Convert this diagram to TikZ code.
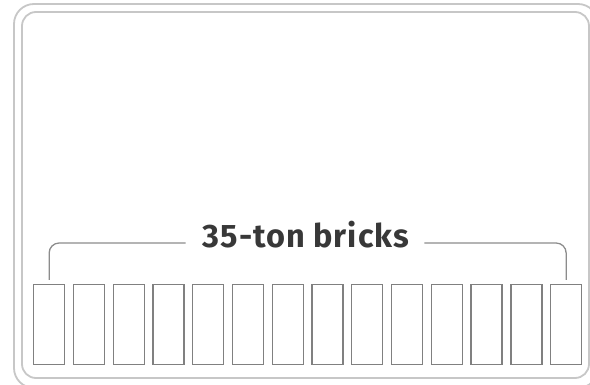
\documentclass[tikz,border=0pt]{standalone}
\usepackage{fontspec}
\setmainfont{Fira Sans}
\newfontfamily\lblfont[LetterSpace=3]{Fira Sans}
\begin{document}
\begin{tikzpicture}[x=1pt,y=-1pt,
  frameline/.style={draw=black!22,line width=1.8pt},
  brick/.style={draw=black!50,line width=1.3pt,minimum width=31pt,minimum height=80pt,inner sep=0pt,anchor=north west},
  bracketline/.style={draw=black!45,line width=1.3pt,rounded corners=10pt},
  label/.style={text=black!78,font=\lblfont\fontsize{32.5}{32.5}\selectfont\bfseries,inner sep=0pt,anchor=base}]
\useasboundingbox (0,0) rectangle (590,385);
\clip (0,0) rectangle (590,385);
\draw[frameline,rounded corners=20pt] (14,4) rectangle (598,388);
\draw[frameline,rounded corners=14pt] (22,12) rectangle (589,378);
\foreach \i in {1,...,14}{
  \node[brick] (b\i) at ({33+(\i-1)*39.77},284) {};
}
\node[label] (t) at (306,248) {35-ton bricks};
\coordinate (lt) at ([yshift=4pt]b1.north);
\coordinate (rt) at ([yshift=4pt]b14.north);
\coordinate (le) at ([xshift=-17pt]t.west |- 0,243);
\coordinate (re) at ([xshift=15pt]t.east |- 0,243);
\draw[bracketline] (lt) |- (le);
\draw[bracketline] (re) -| (rt);
\end{tikzpicture}
\end{document}
